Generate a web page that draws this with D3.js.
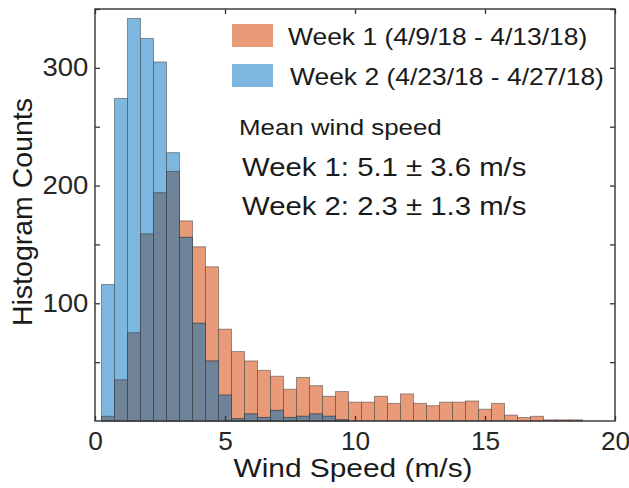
<!DOCTYPE html>
<html>
<head>
<meta charset="utf-8">
<script src="https://cdn.jsdelivr.net/npm/d3@7"></script>
<style>
body { margin: 0; background: #fff; }
svg { display: block; font-family: "Liberation Sans", Arial, sans-serif; }
</style>
</head>
<body>
<svg id="chart" width="629" height="488"></svg>
<script>
// histogram bins, 0.5 m/s wide, given by centre
var binCenters = [0.5, 1.0, 1.5, 2.0, 2.5, 3.0, 3.5, 4.0, 4.5, 5.0, 5.5, 6.0, 6.5, 7.0, 7.5, 8.0, 8.5, 9.0, 9.5,
	10.0, 10.5, 11.0, 11.5, 12.0, 12.5, 13.0, 13.5, 14.0, 14.5, 15.0, 15.5, 16.0, 16.5, 17.0, 17.5, 18.0, 18.5];
var binWidth = 0.5;

var week1 = [4, 35, 75, 159, 194, 212, 170, 148, 131, 78, 59, 51, 43, 38, 27, 37, 30, 21, 25,
	16, 16, 21, 15, 23, 15, 13, 16, 16, 17, 10, 15, 5, 3, 4, 1, 1, 1];
var week2 = [116, 274, 342, 325, 305, 228, 156, 83, 51, 22, 2, 6, 3, 9, 3, 4, 6, 4, 1,
	0, 0, 0, 0, 0, 0, 0, 0, 0, 0, 0, 0, 0, 0, 0, 0, 0, 0];

var xTicks = [0, 5, 10, 15, 20];
var yTicks = [50, 100, 150, 200, 250, 300, 350];
var yLabels = [100, 200, 300];

var legendLabels = ["Week 1 (4/9/18 - 4/13/18)", "Week 2 (4/23/18 - 4/27/18)"];
var statLines = ["Mean wind speed", "Week 1: 5.1 \u00b1 3.6 m/s", "Week 2: 2.3 \u00b1 1.3 m/s"];

var orange = "#E99A78", blue = "#7DB6DF", both = "#6F8499";
var sx = 1.15; // text in the picture is a bit wider than plain Arial

var plotL = 95, plotR = 615, plotT = 9, plotB = 421;

var svg = d3.select("#chart");

var xScale = d3.scaleLinear().domain([0, 20]).range([plotL, plotR]);
var yScale = d3.scaleLinear().domain([0, 350]).range([plotB, plotT]);

var bins = binCenters.map(function(c, i){
	return {x0: c - binWidth/2, x1: c + binWidth/2, a: week1[i], b: week2[i]};
});

function bars(key, color){
	svg.append("g").selectAll("rect")
		.data(bins.filter(function(d){ return key(d) > 0; }))
		.enter().append("rect")
		.attr("x", function(d){ return xScale(d.x0); })
		.attr("width", function(d){ return xScale(d.x1) - xScale(d.x0); })
		.attr("y", function(d){ return yScale(key(d)); })
		.attr("height", function(d){ return yScale(0) - yScale(key(d)); })
		.style("fill", color)
		.style("stroke", "#2b2b2b")
		.style("stroke-opacity", 0.45)
		.style("stroke-width", 1);
}

bars(function(d){ return d.a; }, orange);
bars(function(d){ return d.b; }, blue);
bars(function(d){ return Math.min(d.a, d.b); }, both);

// axes, ticks pointing inward, on all four sides
var xAxis = d3.axisBottom(xScale).tickValues(xTicks).tickSizeInner(-5).tickSizeOuter(0).tickPadding(11);
var gx = svg.append("g").attr("transform", "translate(0," + plotB + ")").call(xAxis);
svg.append("g").attr("transform", "translate(0," + plotT + ")")
	.call(d3.axisTop(xScale).tickValues(xTicks).tickSizeInner(-5).tickSizeOuter(0).tickFormat(""));

var yAxis = d3.axisLeft(yScale).tickValues(yTicks).tickSizeInner(-5).tickSizeOuter(0).tickPadding(6)
	.tickFormat(function(d){ return yLabels.indexOf(d) >= 0 ? d : ""; });
var gy = svg.append("g").attr("transform", "translate(" + plotL + ",0)").call(yAxis);
svg.append("g").attr("transform", "translate(" + plotR + ",0)")
	.call(d3.axisRight(yScale).tickValues(yTicks).tickSizeInner(-5).tickSizeOuter(0).tickFormat(""));

svg.selectAll(".domain").remove();
svg.selectAll(".tick line").style("stroke", "#333").style("stroke-width", 1.3);

gx.selectAll("text").style("font-size", "25px").style("fill", "#262626")
	.attr("dy", "0.71em").attr("transform", "scale(1.05,1)");
gy.selectAll("text").style("font-size", "25px").style("fill", "#262626")
	.attr("transform", "scale(1.1,1)");

svg.append("rect")
	.attr("x", plotL).attr("y", plotT)
	.attr("width", plotR - plotL).attr("height", plotB - plotT)
	.style("fill", "none").style("stroke", "#333").style("stroke-width", 1.4);

function label(x, y, str, size, anchor, stretch, rot){
	var t = "translate(" + x + "," + y + ") scale(" + stretch + ",1)" + (rot ? " rotate(" + rot + ")" : "");
	return svg.append("text")
		.attr("transform", t)
		.attr("text-anchor", anchor)
		.style("font-size", size + "px")
		.style("fill", "#1a1a1a")
		.text(str);
}

label((plotL + plotR)/2 - 2, 477, "Wind Speed (m/s)", 26, "middle", sx);
label(32, 212, "Histogram Counts", 28.5, "middle", 1, -90);

// legend
var legendColors = [orange, blue];
var legendY = [24, 64];
var legendTextX = [288, 290];
legendLabels.forEach(function(s, i){
	svg.append("rect")
		.attr("x", 232).attr("y", legendY[i])
		.attr("width", 41).attr("height", 23)
		.style("fill", legendColors[i]);
	label(legendTextX[i], legendY[i] + 21, s, 23, "start", sx);
});

label(239, 135, statLines[0], 22.5, "start", sx);
label(242, 176, statLines[1], 25.5, "start", sx);
label(242, 215, statLines[2], 25.5, "start", sx);
</script>
</body>
</html>
